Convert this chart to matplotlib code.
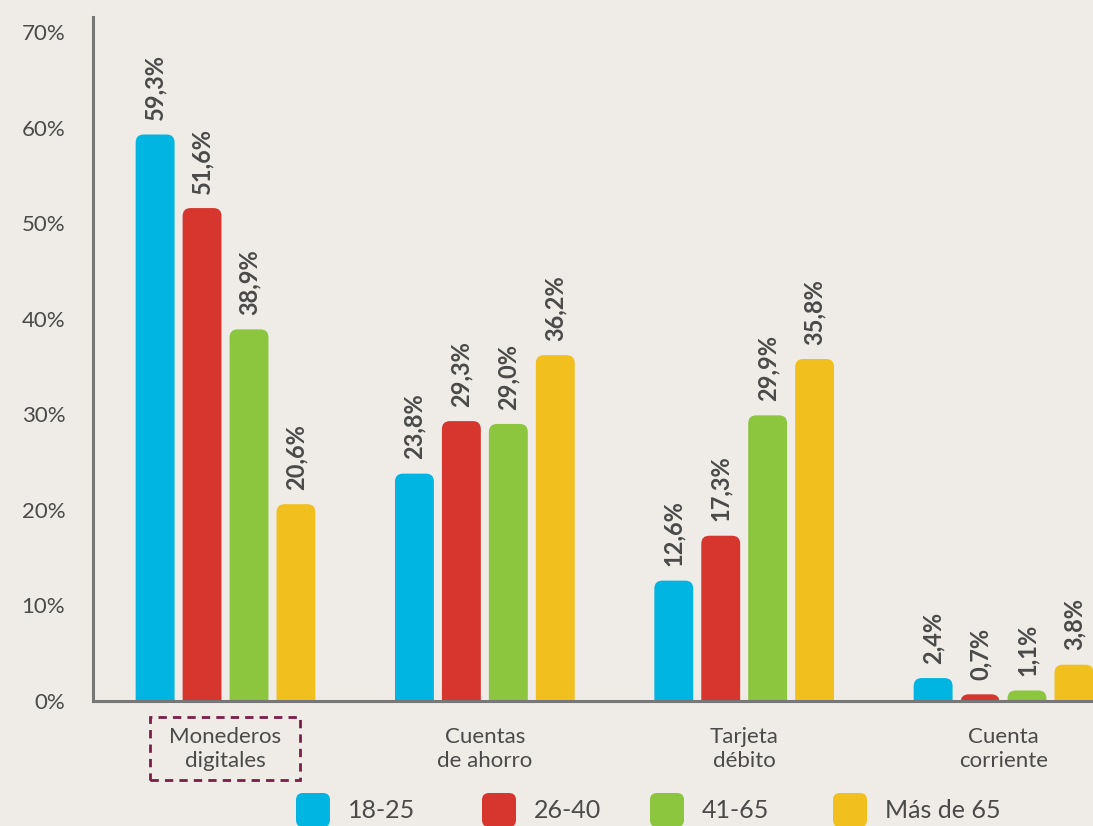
import matplotlib
matplotlib.use("Agg")
import matplotlib.pyplot as plt
from matplotlib.patches import FancyBboxPatch, Rectangle
import numpy as np

categories = ["Monederos\ndigitales", "Cuentas\nde ahorro", "Tarjeta\ndébito", "Cuenta\ncorriente"]
series_names = ["18-25", "26-40", "41-65", "Más de 65"]
v_18_25 = [59.3, 23.8, 12.6, 2.4]
v_26_40 = [51.6, 29.3, 17.3, 0.7]
v_41_65 = [38.9, 29.0, 29.9, 1.1]
v_65_plus = [20.6, 36.2, 35.8, 3.8]
series_values = [v_18_25, v_26_40, v_41_65, v_65_plus]
yticks = [0, 10, 20, 30, 40, 50, 60, 70]

colors = ["#00b5e2", "#d6362e", "#8cc63f", "#f1c01f"]
bg = "#efece7"
txt = "#4a4a4a"
plt.rcParams['font.family'] = ['Lato', 'DejaVu Sans']

W, H = 1093, 826
fig = plt.figure(figsize=(W / 100, H / 100), dpi=100, facecolor=bg)
ax = fig.add_axes([93 / W, (H - 701) / H, 1000 / W, 684 / H])
ax.set_facecolor(bg)
ax.set_xlim(-0.511, 3.345)
ax.set_ylim(0, 71.6)

x = np.arange(len(categories))
bw = 0.15
step = 0.181
px_x = (3.345 + 0.511) / 1000
px_y = 71.6 / 684
r_px = 8
for i, vals in enumerate(series_values):
    off = (i - 1.5) * step
    for xi, v in zip(x, vals):
        left = xi + off - bw / 2
        bottom = -3
        p = FancyBboxPatch((left, bottom), bw, v - bottom,
                           boxstyle=f"round,pad=0,rounding_size={r_px * px_x}",
                           mutation_aspect=px_y / px_x,
                           facecolor=colors[i], edgecolor='none', clip_on=True)
        ax.add_patch(p)
        ax.text(xi + off, v + 1.5, f"{v:.1f}%".replace('.', ','), rotation=90,
                ha='center', va='bottom', fontsize=17, fontweight='bold', color=txt)

for s in ['top', 'right']:
    ax.spines[s].set_visible(False)
for s in ['left', 'bottom']:
    ax.spines[s].set_color('#777777')
    ax.spines[s].set_linewidth(2.2)
ax.set_yticks(yticks)
ax.set_yticklabels([f"{t}%" for t in yticks], fontsize=16, color=txt)
ax.tick_params(axis='y', length=0, pad=20)
ax.set_xticks(x)
ax.set_xticklabels(categories, fontsize=16, color=txt, linespacing=1.25)
ax.tick_params(axis='x', length=0, pad=19)

# dashed box around first category
fig.patches.append(Rectangle((150 / W, 1 - 780 / H), 150 / W, 63 / H, transform=fig.transFigure,
                             fill=False, edgecolor='#7b1d49', linestyle=(0, (3, 2.2)), linewidth=2))

# legend
lx = [296, 482, 650, 833]
for i, name in enumerate(series_names):
    fig.patches.append(FancyBboxPatch((lx[i] / W, 1 - 827 / H), 34 / W, 34 / H,
                                      boxstyle=f"round,pad=0,rounding_size={7 / W}",
                                      mutation_aspect=W / H,
                                      transform=fig.transFigure, facecolor=colors[i], edgecolor='none'))
    fig.text((lx[i] + 52) / W, 1 - 810 / H, name, fontsize=18, color=txt, va='center', ha='left')

fig.savefig("out.png", dpi=100, facecolor=bg)
